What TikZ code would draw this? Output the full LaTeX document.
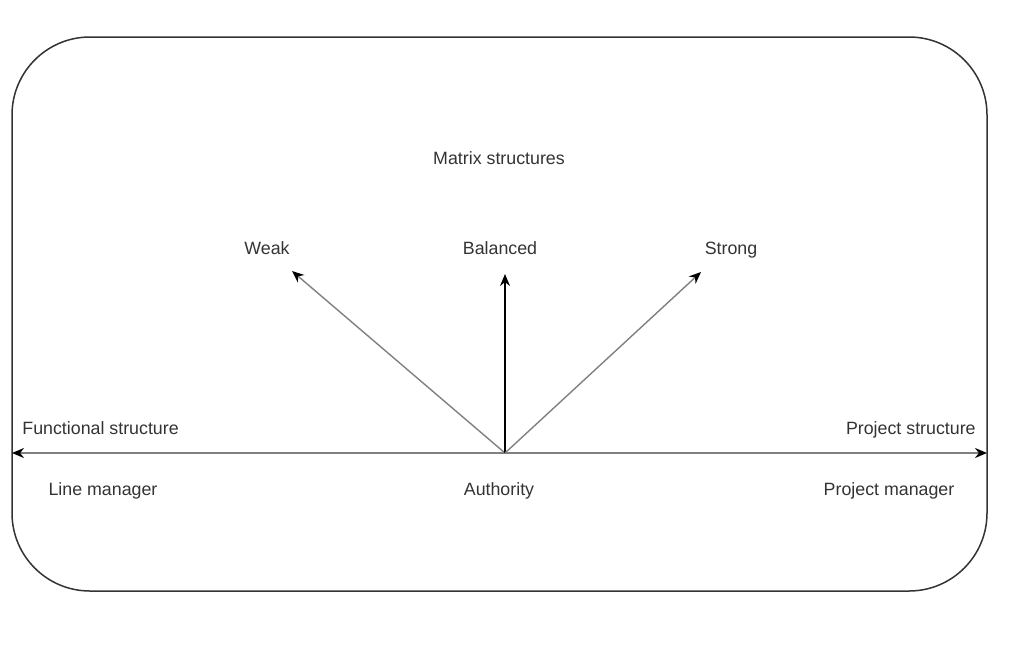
\documentclass[tikz,border=0pt]{standalone}
\usepackage{fontspec}
\setmainfont{Liberation Sans}
\usetikzlibrary{arrows.meta}

\tikzset{
  lbl/.style={text=lbltext,font=\fontsize{8.9}{10.7}\selectfont,inner sep=0pt,text height=1.6ex,text depth=0.45ex},
  axis/.style={draw=axisgray,line width=0.9pt,{Stealth[length=6pt,width=5pt,color=black]}-{Stealth[length=6pt,width=5pt,color=black]}},
  ray/.style={draw=axisgray,line width=0.7pt,-{Stealth[length=6pt,width=5pt,color=black]}}
}

\begin{document}
\begin{tikzpicture}[x=0.5pt,y=-0.5pt]
    \definecolor{lbltext}{RGB}{51,51,51}
    \definecolor{axisgray}{RGB}{128,128,128}
    \useasboundingbox (0,0) rectangle (1016,654);
    % frame
    \draw[black!80,line width=0.75pt,rounded corners=39pt] (12,37) rectangle (987,591);
    % axis
    \coordinate (west) at (12,453);
    \coordinate (east) at (987,453);
    \coordinate (auth) at (505,453);
    \coordinate (weaktip) at (292,271);
    \coordinate (baltip) at (505,274);
    \coordinate (strongtip) at (701,272);
    \draw[axis] (west) -- (east);
    \draw[ray] (auth) -- (weaktip);
    \draw[ray,draw=black] (auth) -- (baltip);
    \draw[ray] (auth) -- (strongtip);
    % labels
    \node[lbl] (matrix) at (499,158) {Matrix structures};
    \node[lbl] (weak) at (267,248) {Weak};
    \node[lbl] (balanced) at (500,248) {Balanced};
    \node[lbl] (strong) at (731,248) {Strong};
    \node[lbl,anchor=west] (functional) at (22,428) {Functional structure};
    \node[lbl,anchor=east] (project) at (976,428) {Project structure};
    \node[lbl] (linemgr) at (103,489) {Line manager};
    \node[lbl] (authority) at (499,489) {Authority};
    \node[lbl] (projmgr) at (889,489) {Project manager};
\end{tikzpicture}
\end{document}
